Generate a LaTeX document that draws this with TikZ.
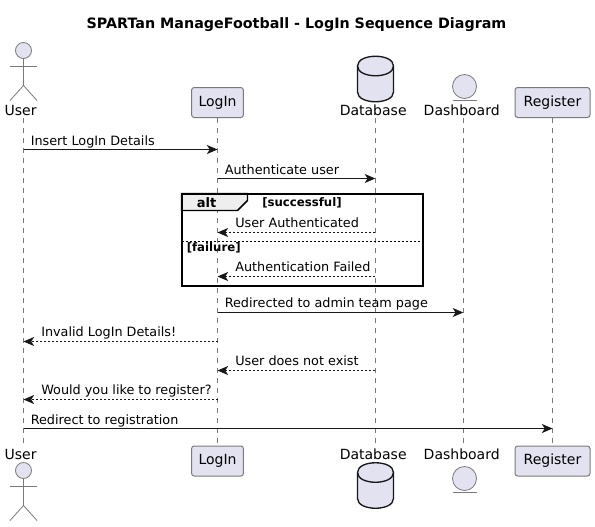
\documentclass[tikz,border=0pt]{standalone}
\usepackage{fontspec}
\setmainfont{DejaVu Sans}
\usepackage{xcolor}
\usetikzlibrary{arrows.meta,calc,positioning}
\definecolor{partfill}{HTML}{E2E2F0}
\definecolor{tabfill}{HTML}{EEEEEE}
\definecolor{lifegray}{HTML}{7A7A7A}
\definecolor{inkgray}{HTML}{181818}
\begin{document}
\begin{tikzpicture}[x=0.75pt,y=-0.75pt,
  partbox/.style={draw=lifegray,fill=partfill,rounded corners=2pt,line width=0.75pt,
    font=\fontsize{10.5pt}{12pt}\selectfont,inner xsep=5.2pt,inner ysep=0pt,minimum height=22.5pt},
  partlabel/.style={font=\fontsize{10.5pt}{12pt}\selectfont,anchor=base,inner sep=0pt},
  msgtext/.style={font=\fontsize{9.6pt}{12pt}\selectfont,anchor=base west,inner sep=0pt,text=black},
  guardtext/.style={font=\fontsize{8.8pt}{10pt}\selectfont\bfseries,anchor=base west,inner sep=0pt},
  lifeline/.style={draw=lifegray,line width=0.6pt,dash pattern=on 3.75pt off 3.75pt},
  actorline/.style={draw=lifegray,line width=0.6pt},
  dbline/.style={draw=inkgray,line width=1pt,fill=partfill},
  call/.style={draw=inkgray,line width=0.75pt,-{Stealth[inset=2.2pt,length=8pt,width=6.8pt]}},
  reply/.style={call,dash pattern=on 1.5pt off 1.5pt}]
  \useasboundingbox (0,0) rectangle (595,526);
  \node[font=\fontsize{10.72pt}{13pt}\selectfont\bfseries,anchor=base,inner sep=0pt] (title) at (296.5,28) {SPARTan ManageFootball - LogIn Sequence Diagram};

  % participants on top
  \node[partbox] (login) at (217.5,102.5) {LogIn};
  \node[partbox,minimum width=56.25pt] (reg) at (552.5,102.5) {Register};
  \node[partlabel] (usertxt) at (20.6,115) {User};
  \node[partlabel] (dbtxt) at (373.2,115) {Database};
  \node[partlabel] (dashtxt) at (461.7,115) {Dashboard};
  % participants at the bottom
  \node[partbox] (loginb) at (217.5,461) {LogIn};
  \node[partbox,minimum width=56.25pt] (regb) at (552.5,461) {Register};
  \node[partlabel] (userbtxt) at (20.6,459) {User};
  \node[partlabel] (dbbtxt) at (373.2,459) {Database};
  \node[partlabel] (dashbtxt) at (461.7,459) {Dashboard};

  \coordinate (user) at (23.5,118);
  \coordinate (userb) at (23.5,444);
  \coordinate (db) at (375.3,118);
  \coordinate (dbb) at (375.3,444);
  \coordinate (dash) at (463.3,118);
  \coordinate (dashb) at (463.3,444);

  % lifelines
  \draw[lifeline] (user) -- (userb);
  \draw[lifeline] (login.south) -- (loginb.north);
  \draw[lifeline] (db) -- (dbb);
  \draw[lifeline] (dash) -- (dashb);
  \draw[lifeline] (reg.south) -- (regb.north);

  % actor, top and bottom
  \foreach \y in {50.5,470.5}{
    \draw[actorline,fill=partfill] (23.5,\y) circle[radius=8];
    \draw[actorline] (23.5,\y+8) -- (23.5,\y+35) (10,\y+15.5) -- (37,\y+15.5);
    \draw[actorline] (10,\y+50) -- (23.5,\y+35) -- (37,\y+50);
  }
  % database, top and bottom
  \foreach \y in {56,462.5}{
    \draw[dbline] (357.5,\y+10) .. controls (357.5,\y-3) and (393.5,\y-3) .. (393.5,\y+10)
      -- (393.5,\y+36) .. controls (393.5,\y+49) and (357.5,\y+49) .. (357.5,\y+36) -- cycle;
    \draw[dbline,fill=none] (357.5,\y+10) .. controls (357.5,\y+23) and (393.5,\y+23) .. (393.5,\y+10);
  }
  % entity, top and bottom
  \foreach \y in {86.5,478.5}{
    \draw[actorline,fill=partfill] (464.5,\y) circle[radius=12];
    \draw[actorline] (452.5,\y+13.5) -- (476.5,\y+13.5);
  }

  % alt frame
  \draw[draw=black,line width=1.1pt,fill=tabfill] (181.5,193.5) -- (247.5,193.5) -- (247.5,200.5) -- (237.5,210.5) -- (181.5,210.5) -- cycle;
  \draw[line width=1.5pt] (181.5,193.5) rectangle (422.5,285.5);
  \draw[black,line width=0.75pt,dash pattern=on 1.5pt off 1.5pt] (181.5,241.5) -- (422.5,241.5);
  \node[font=\fontsize{9.75pt}{12pt}\selectfont\bfseries,anchor=base,inner sep=0pt] (alt) at (206.5,207) {alt};
  \node[guardtext] (guardok) at (262,206) {[successful]};
  \node[guardtext] (guardno) at (186.5,251) {[failure]};

  % messages
  \coordinate (m1) at (0,149.5);
  \coordinate (m2) at (0,178.5);
  \coordinate (m3) at (0,232.5);
  \coordinate (m4) at (0,276.5);
  \coordinate (m5) at (0,312.5);
  \coordinate (m6) at (0,341.5);
  \coordinate (m7) at (0,370.5);
  \coordinate (m8) at (0,399.5);
  \coordinate (m9) at (0,428.5);
  \draw[call] (user |- m1) -- (login |- m1);
  \draw[call] (login |- m2) -- (db |- m2);
  \draw[reply] (db |- m3) -- (login |- m3);
  \draw[reply] (db |- m4) -- (login |- m4);
  \draw[call] (login |- m5) -- (dash |- m5);
  \draw[reply] (login |- m6) -- (user |- m6);
  \draw[reply] (db |- m7) -- (login |- m7);
  \draw[reply] (login |- m8) -- (user |- m8);
  \draw[call] (user |- m9) -- (reg |- m9);
  \node[msgtext] (t1) at (30.5,145) {Insert LogIn Details};
  \node[msgtext] (t2) at (224.5,174) {Authenticate user};
  \node[msgtext] (t3) at (235,227.5) {User Authenticated};
  \node[msgtext] (t4) at (235,271.5) {Authentication Failed};
  \node[msgtext] (t5) at (224.5,307.5) {Redirected to admin team page};
  \node[msgtext] (t6) at (41,336.5) {Invalid LogIn Details!};
  \node[msgtext] (t7) at (235,365.5) {User does not exist};
  \node[msgtext] (t8) at (41,394.5) {Would you like to register?};
  \node[msgtext] (t9) at (30.5,424) {Redirect to registration};
\end{tikzpicture}
\end{document}
